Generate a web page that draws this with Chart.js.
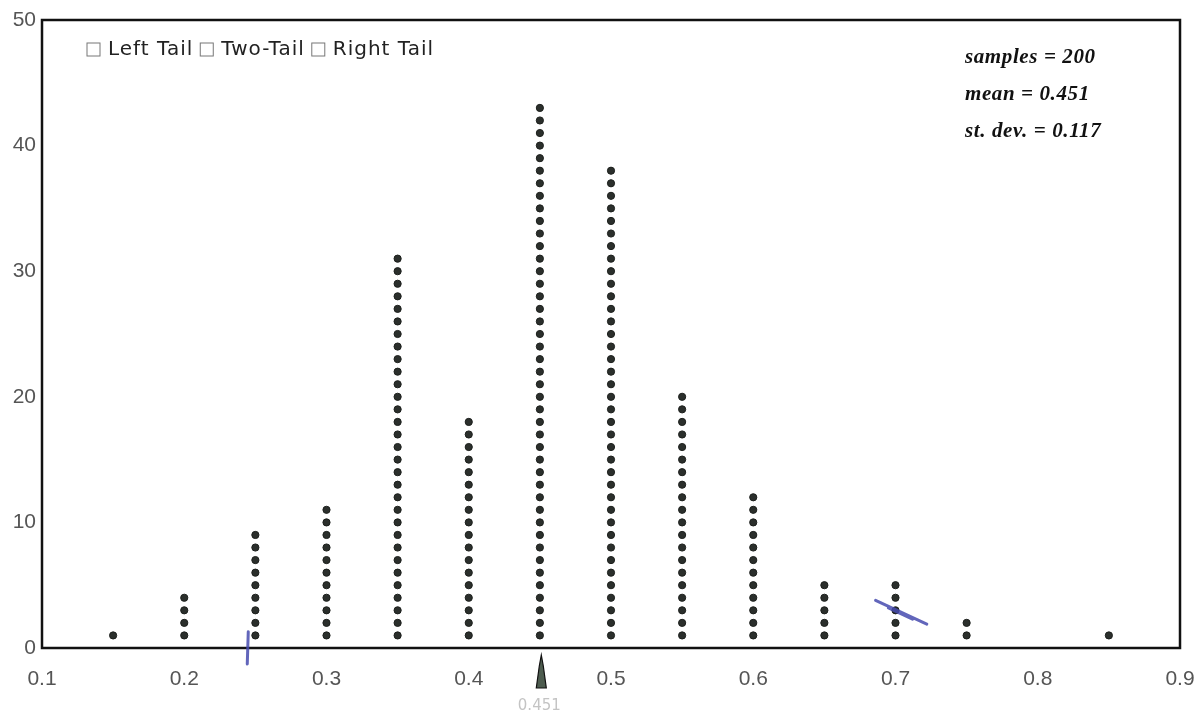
<!DOCTYPE html>
<html>
<head>
<meta charset="utf-8">
<script src="https://cdn.jsdelivr.net/npm/chart.js@4/dist/chart.umd.min.js"></script>
<style>
  html, body { margin: 0; padding: 0; background: #ffffff; }
  #wrap { width: 1198px; height: 719px; position: relative; }
</style>
</head>
<body>
<div id="wrap"><canvas id="c" width="1198" height="719"></canvas></div>
<script>
// ---- data ----
const sampleProportions = [0.15, 0.20, 0.25, 0.30, 0.35, 0.40, 0.45, 0.50, 0.55, 0.60, 0.65, 0.70, 0.75, 0.85];
const sampleCounts      = [1,    4,    9,    11,   31,   18,   43,   38,   20,   12,   5,    5,    2,    1];
const xTicks = [0.1, 0.2, 0.3, 0.4, 0.5, 0.6, 0.7, 0.8, 0.9];
const yTicks = [0, 10, 20, 30, 40, 50];
const tailOptions = ['Left Tail', 'Two-Tail', 'Right Tail'];
const statLines = ['samples = 200', 'mean = 0.451', 'st. dev. = 0.117'];
const meanValue = 0.451;

// stacked dots: one point per sample
const dotPoints = [];
sampleProportions.forEach((p, i) => {
  for (let k = 1; k <= sampleCounts[i]; k++) dotPoints.push({ x: p, y: k });
});

const boxPlugin = {
  id: 'boxAndText',
  afterDraw(chart) {
    const { ctx, chartArea: a, scales } = chart;
    const xs = scales.x, ys = scales.y;
    ctx.save();
    // frame
    ctx.strokeStyle = '#111';
    ctx.lineWidth = 2.5;
    ctx.strokeRect(a.left, a.top, a.right - a.left, a.bottom - a.top);

    // tail checkboxes
    ctx.font = '20px "DejaVu Sans", sans-serif';
    ctx.letterSpacing = '1px';
    ctx.fillStyle = '#222';
    ctx.textBaseline = 'middle';
    let x = a.left + 45;
    const ty = a.top + 30;
    tailOptions.forEach(t => {
      ctx.strokeStyle = '#777';
      ctx.lineWidth = 1;
      ctx.strokeRect(x, ty - 7, 13, 13);
      x += 21;
      ctx.fillText(t, x, ty);
      x += ctx.measureText(t).width + 7;
    });
    ctx.letterSpacing = '0px';

    // stats text
    ctx.font = 'italic bold 21px "Liberation Serif", serif';
    ctx.letterSpacing = '0.6px';
    ctx.fillStyle = '#111';
    ctx.textAlign = 'left';
    statLines.forEach((s, i) => ctx.fillText(s, a.right - 215, a.top + 38 + i * 37));
    ctx.letterSpacing = '0px';

    // mean marker
    const mx = xs.getPixelForValue(meanValue);
    const by = a.bottom;
    ctx.beginPath();
    ctx.moveTo(mx, by + 7);
    ctx.lineTo(mx + 2, by + 18);
    ctx.lineTo(mx + 5, by + 40);
    ctx.lineTo(mx - 5, by + 40);
    ctx.lineTo(mx - 2, by + 18);
    ctx.closePath();
    ctx.fillStyle = '#4d5c4f';
    ctx.fill();
    ctx.strokeStyle = '#111';
    ctx.lineWidth = 1.2;
    ctx.stroke();
    ctx.font = '15px "DejaVu Sans", sans-serif';
    ctx.fillStyle = '#c4c4c4';
    ctx.textAlign = 'center';
    ctx.fillText(meanValue.toFixed(3), mx - 2, by + 58);

    // blue pen marks from the scan
    ctx.strokeStyle = 'rgba(70,75,175,0.85)';
    ctx.lineCap = 'round';
    ctx.lineWidth = 3;
    const px = xs.getPixelForValue(0.245);
    ctx.beginPath();
    ctx.moveTo(px, ys.getPixelForValue(1.3));
    ctx.lineTo(px - 1, by + 16);
    ctx.stroke();
    ctx.beginPath();
    ctx.moveTo(xs.getPixelForValue(0.686), ys.getPixelForValue(3.8));
    ctx.lineTo(xs.getPixelForValue(0.722), ys.getPixelForValue(1.9));
    ctx.moveTo(xs.getPixelForValue(0.695), ys.getPixelForValue(3.2));
    ctx.lineTo(xs.getPixelForValue(0.712), ys.getPixelForValue(2.3));
    ctx.stroke();
    ctx.restore();
  }
};

new Chart(document.getElementById('c'), {
  type: 'scatter',
  data: {
    datasets: [{
      data: dotPoints,
      pointRadius: 3.6,
      pointHoverRadius: 3.6,
      pointBackgroundColor: '#2b2f2c',
      pointBorderColor: '#1c1f1c',
      pointBorderWidth: 1
    }]
  },
  options: {
    responsive: false,
    animation: false,
    events: [],
    layout: { padding: { top: 20, right: 18, left: 0, bottom: 0 } },
    plugins: { legend: { display: false }, tooltip: { enabled: false } },
    scales: {
      x: {
        type: 'linear',
        min: xTicks[0],
        max: xTicks[xTicks.length - 1],
        afterBuildTicks: s => { s.ticks = xTicks.map(v => ({ value: v })); },
        afterFit: s => { s.height = 71; s.paddingLeft = 0; s.paddingRight = 0; },
        grid: { display: false, drawTicks: false },
        border: { display: false },
        ticks: {
          padding: 19,
          color: '#555',
          font: { family: '"Liberation Sans", sans-serif', size: 21 },
          callback: v => Number(v).toFixed(1)
        }
      },
      y: {
        type: 'linear',
        min: yTicks[0],
        max: yTicks[yTicks.length - 1],
        afterBuildTicks: s => { s.ticks = yTicks.map(v => ({ value: v })); },
        afterFit: s => { s.width = 42; s.paddingTop = 0; s.paddingBottom = 0; },
        grid: { display: false, drawTicks: false },
        border: { display: false },
        ticks: {
          padding: 6,
          color: '#555',
          font: { family: '"Liberation Sans", sans-serif', size: 21 }
        }
      }
    }
  },
  plugins: [boxPlugin]
});
</script>
</body>
</html>
